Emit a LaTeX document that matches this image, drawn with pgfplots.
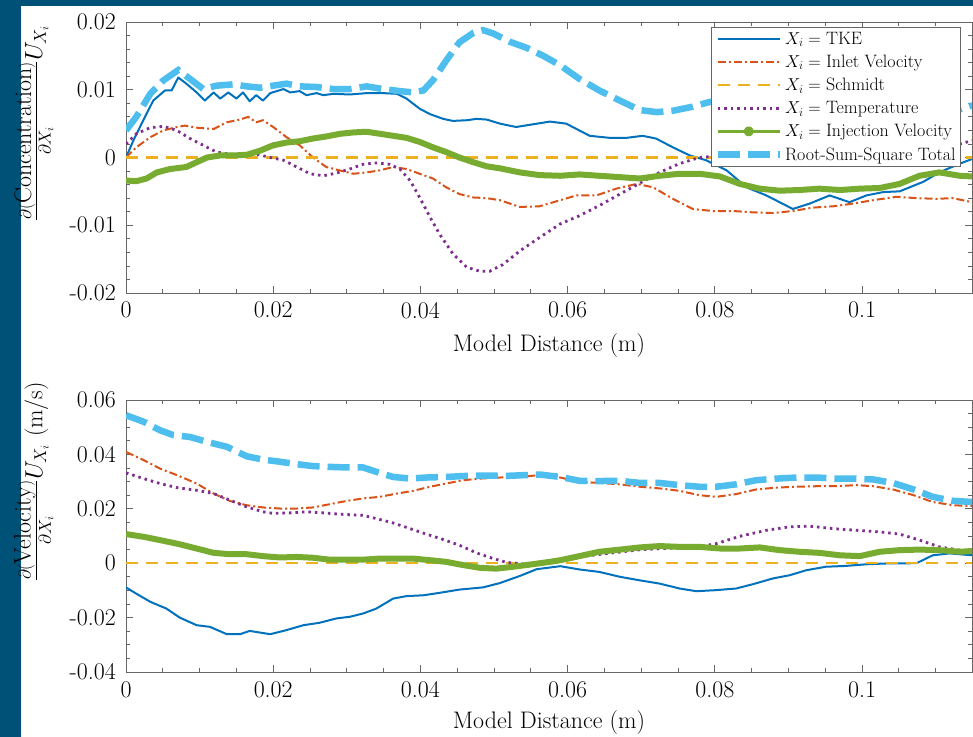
\documentclass[border=0pt]{standalone}
\usepackage{pgfplots}
\pgfplotsset{compat=1.18}
\definecolor{bgblue}{RGB}{0,81,120}
\definecolor{cTKE}{rgb}{0,0.447,0.741}
\definecolor{cInl}{rgb}{0.85,0.325,0.098}
\definecolor{cSch}{rgb}{0.929,0.694,0.125}
\definecolor{cTmp}{rgb}{0.494,0.184,0.556}
\definecolor{cInj}{rgb}{0.466,0.674,0.188}
\definecolor{cRSS}{rgb}{0.301,0.745,0.933}
\newcommand{\bigf}{\fontsize{24}{28}\selectfont}
\pgfplotsset{
  mlbase/.style={
    scale only axis, width=846bp,
    xmin=0, xmax=0.11494,
    scaled x ticks=false, scaled y ticks=false,
    axis line style={black!60, line width=0.7bp},
    every tick/.style={black!60, line width=0.7bp},
    major tick length=7bp, minor tick length=4bp,
    tick align=inside,
    xtick={0,0.02,0.04,0.06,0.08,0.1},
    xticklabels={0,0.02,0.04,0.06,0.08,0.1},
    minor xtick={0.005,0.01,0.015,0.025,0.03,0.035,0.045,0.05,0.055,0.065,0.07,0.075,0.085,0.09,0.095,0.105,0.11},
    tick label style={font=\bigf},
    yticklabel style={inner sep=0pt, xshift=-10bp},
    xticklabel style={inner sep=0pt, yshift=-9bp},
    label style={font=\bigf},
    xlabel={Model Distance (m)},
    clip=true,
  },
  lTKE/.style={cTKE, line width=2bp, line join=round},
  lInl/.style={cInl, line width=2bp, dash pattern=on 8bp off 3bp on 2bp off 3bp},
  lSch/.style={cSch, line width=2.5bp, dash pattern=on 12bp off 8bp},
  lTmp/.style={cTmp, line width=2.8bp, dash pattern=on 2.5bp off 4bp},
  lInj/.style={cInj, line width=6bp, line join=round},
  lRSS/.style={cRSS, line width=6.5bp, dash pattern=on 22bp off 8bp},
}
\begin{document}
\begin{tikzpicture}
\useasboundingbox (0,0) rectangle (973bp,737bp);
\fill[white] (0,0) rectangle (973bp,737bp);
\fill[bgblue] (0,0) rectangle (21bp,737bp);
\fill[bgblue] (0,731bp) rectangle (973bp,737bp);

\begin{axis}[mlbase, at={(126bp,444bp)}, anchor=south west, height=271bp,
  ymin=-0.02, ymax=0.02,
  ytick={-0.02,-0.01,0,0.01,0.02},
  yticklabels={-0.02,-0.01,0,0.01,0.02},
  minor ytick={-0.018,-0.016,-0.014,-0.012,-0.008,-0.006,-0.004,-0.002,0.002,0.004,0.006,0.008,0.012,0.014,0.016,0.018},
  xlabel style={at={(axis description cs:0.5,-0.195)}, anchor=center},
  ylabel={$\frac{\partial(\mbox{Concentration})}{\partial X_i} U_{X_i}$},
  ylabel style={at={(axis description cs:-0.109,0.627)}, anchor=center},
  legend cell align=left,
  legend style={at={(0.987,0.9815)}, anchor=north east, draw=black!60, line width=0.7bp, fill=white,
    font=\fontsize{18}{21}\selectfont, inner xsep=3bp, inner ysep=2.5bp, row sep=5.3bp},
  legend image code/.code={\draw[#1] (0bp,0bp) -- (62bp,0bp);},
]
\addplot[lTKE] coordinates {(0,0) (0.001,0.0025) (0.00235,0.0055) (0.0037,0.0084) (0.0053,0.0099) (0.0062,0.0099) (0.0071,0.0118) (0.0082,0.0109) (0.0096,0.0096) (0.0107,0.0084) (0.0119,0.0096) (0.0128,0.0087) (0.0139,0.0096) (0.015,0.0087) (0.0159,0.0096) (0.0168,0.0083) (0.0177,0.0092) (0.0186,0.0084) (0.0196,0.0095) (0.0214,0.0101) (0.0223,0.0096) (0.0236,0.0098) (0.0245,0.0092) (0.0259,0.0095) (0.0268,0.0092) (0.0282,0.0094) (0.0304,0.0093) (0.0327,0.0095) (0.0349,0.0095) (0.0368,0.0094) (0.0381,0.0087) (0.0399,0.0072) (0.0413,0.0064) (0.0431,0.0057) (0.0444,0.0054) (0.0463,0.0055) (0.0476,0.0057) (0.049,0.0056) (0.0508,0.005) (0.053,0.0045) (0.0553,0.0049) (0.0576,0.0053) (0.0598,0.005) (0.063,0.0032) (0.0657,0.0029) (0.068,0.0029) (0.0702,0.0032) (0.072,0.0028) (0.0743,0.0015) (0.0766,0.0003) (0.0788,-0.0004) (0.0816,-0.0019) (0.0843,-0.0044) (0.087,-0.0056) (0.0888,-0.0066) (0.0906,-0.0076) (0.0929,-0.0068) (0.0956,-0.0056) (0.0983,-0.0066) (0.1006,-0.0056) (0.1029,-0.0051) (0.1051,-0.005) (0.1083,-0.0036) (0.1105,-0.0022) (0.1133,-0.0009) (0.115,-0.0002)};
\addlegendentry{$X_i=$ TKE}
\addplot[lInl] coordinates {(0,0) (0.0014,0.0015) (0.0033,0.003) (0.0051,0.004) (0.0069,0.0045) (0.008,0.0047) (0.0096,0.0044) (0.0119,0.0042) (0.0137,0.0052) (0.0155,0.0056) (0.0166,0.006) (0.0177,0.0052) (0.0186,0.0055) (0.02,0.0045) (0.0218,0.003) (0.0236,0.0018) (0.0254,0) (0.0272,-0.0014) (0.029,-0.0019) (0.0309,-0.0024) (0.0327,-0.0022) (0.0345,-0.0019) (0.0363,-0.0014) (0.0381,-0.0017) (0.0399,-0.0024) (0.0417,-0.0031) (0.0435,-0.0044) (0.0453,-0.0054) (0.0472,-0.0059) (0.049,-0.006) (0.0508,-0.0063) (0.0535,-0.0073) (0.0562,-0.0072) (0.059,-0.0063) (0.0612,-0.0056) (0.0639,-0.0056) (0.0666,-0.0046) (0.0694,-0.0039) (0.0716,-0.0044) (0.0743,-0.0061) (0.077,-0.0076) (0.0797,-0.0079) (0.0825,-0.0079) (0.0852,-0.0081) (0.0879,-0.0082) (0.0906,-0.0079) (0.0933,-0.0074) (0.0961,-0.0072) (0.0988,-0.0068) (0.1015,-0.0063) (0.1047,-0.0058) (0.1074,-0.006) (0.1101,-0.0061) (0.1123,-0.006) (0.115,-0.0066)};
\addlegendentry{$X_i=$ Inlet Velocity}
\addplot[lSch] coordinates {(0,0) (0.115,0)};
\addlegendentry{$X_i=$ Schmidt}
\addplot[lTmp] coordinates {(0,0.002) (0.0014,0.0035) (0.0033,0.0044) (0.0051,0.0046) (0.0069,0.004) (0.0087,0.0028) (0.0105,0.0018) (0.0123,0.0008) (0.0141,0.0005) (0.0159,0.0003) (0.0177,0.0005) (0.0196,0) (0.0214,-0.0004) (0.0232,-0.0014) (0.025,-0.0024) (0.0268,-0.0027) (0.0286,-0.0023) (0.0304,-0.0017) (0.0322,-0.001) (0.034,-0.0008) (0.0358,-0.001) (0.0372,-0.0017) (0.0386,-0.0034) (0.0399,-0.0059) (0.0413,-0.0088) (0.0426,-0.0113) (0.0444,-0.0142) (0.0463,-0.0162) (0.0481,-0.0168) (0.0494,-0.0168) (0.0512,-0.0158) (0.0535,-0.0138) (0.0562,-0.0118) (0.059,-0.0098) (0.0616,-0.0086) (0.0643,-0.0071) (0.0671,-0.0054) (0.0698,-0.0038) (0.0725,-0.0022) (0.0752,-0.0009) (0.0779,0) (0.085,0.0006) (0.095,0.0011) (0.105,0.0016) (0.1133,0.002) (0.115,0.0025)};
\addlegendentry{$X_i=$ Temperature}
\addplot[lInj, legend image code/.code={\draw[cInj, line width=2.5bp] (0bp,0bp) -- (62bp,0bp); \fill[cInj] (31bp,0bp) circle (2bp);}] coordinates {(0,-0.0034) (0.0014,-0.0035) (0.0028,-0.0031) (0.0042,-0.0022) (0.006,-0.0017) (0.0082,-0.0014) (0.0096,-0.0007) (0.011,0) (0.0128,0.0003) (0.0146,0.0003) (0.0164,0.0004) (0.0182,0.001) (0.02,0.0018) (0.0218,0.0022) (0.0236,0.0024) (0.0254,0.0028) (0.0272,0.0031) (0.0291,0.0035) (0.0309,0.0037) (0.0327,0.0038) (0.0345,0.0035) (0.0363,0.0032) (0.0381,0.0029) (0.0399,0.0023) (0.0417,0.0015) (0.0435,0.0008) (0.0453,0) (0.0472,-0.0007) (0.049,-0.0013) (0.0508,-0.0016) (0.0535,-0.0022) (0.0562,-0.0026) (0.059,-0.0027) (0.0616,-0.0025) (0.0643,-0.0027) (0.0671,-0.0029) (0.0698,-0.0031) (0.0725,-0.0027) (0.0752,-0.0024) (0.0779,-0.0024) (0.0807,-0.0028) (0.0834,-0.0039) (0.0861,-0.0046) (0.0888,-0.0049) (0.0915,-0.0048) (0.0942,-0.0046) (0.097,-0.0048) (0.0997,-0.0046) (0.1024,-0.0045) (0.1051,-0.0039) (0.1078,-0.0027) (0.1105,-0.0022) (0.1133,-0.0027) (0.115,-0.0028)};
\addlegendentry{$X_i=$ Injection Velocity}
\addplot[lRSS] coordinates {(0,0.004) (0.0014,0.006) (0.0033,0.0094) (0.0051,0.0114) (0.0071,0.0129) (0.0087,0.0116) (0.0105,0.0101) (0.0123,0.0106) (0.0146,0.0108) (0.0164,0.0105) (0.0182,0.0103) (0.02,0.0106) (0.0218,0.0109) (0.0236,0.0105) (0.0259,0.0104) (0.0282,0.0101) (0.0304,0.0101) (0.0327,0.0105) (0.0349,0.0101) (0.0372,0.0098) (0.039,0.0096) (0.0404,0.0099) (0.0417,0.0114) (0.0435,0.0143) (0.0453,0.017) (0.0472,0.0184) (0.0485,0.0188) (0.0499,0.0183) (0.0521,0.0171) (0.0544,0.0162) (0.0567,0.015) (0.059,0.0136) (0.0616,0.0116) (0.0643,0.0099) (0.0671,0.0084) (0.0698,0.007) (0.0721,0.0067) (0.0743,0.0069) (0.077,0.0075) (0.0793,0.0082) (0.09,0.0088) (0.1,0.0082) (0.108,0.0072) (0.1133,0.0071) (0.115,0.0077)};
\addlegendentry{Root-Sum-Square Total}
\end{axis}

\begin{axis}[mlbase, at={(126bp,65bp)}, anchor=south west, height=272bp,
  ymin=-0.04, ymax=0.06,
  ytick={-0.04,-0.02,0,0.02,0.04,0.06},
  yticklabels={-0.04,-0.02,0,0.02,0.04,0.06},
  minor ytick={-0.035,-0.03,-0.025,-0.015,-0.01,-0.005,0.005,0.01,0.015,0.025,0.03,0.035,0.045,0.05,0.055},
  xlabel style={at={(axis description cs:0.5,-0.185)}, anchor=center},
  ylabel={$\frac{\partial(\mbox{Velocity})}{\partial X_i} U_{X_i}$ (m/s)},
  ylabel style={at={(axis description cs:-0.109,0.70)}, anchor=center},
]
\addplot[lTKE] coordinates {(0,-0.0089) (0.0014,-0.0112) (0.0033,-0.0142) (0.0055,-0.0167) (0.0073,-0.02) (0.0096,-0.0228) (0.0114,-0.0234) (0.0137,-0.0261) (0.0155,-0.0261) (0.0168,-0.0249) (0.0196,-0.0261) (0.0218,-0.0246) (0.0241,-0.0228) (0.0263,-0.0219) (0.0286,-0.0203) (0.0304,-0.0197) (0.0322,-0.0185) (0.034,-0.0167) (0.0363,-0.013) (0.0381,-0.0121) (0.0404,-0.0118) (0.0426,-0.0109) (0.0453,-0.0097) (0.0485,-0.0089) (0.0508,-0.0073) (0.0535,-0.0047) (0.0558,-0.0022) (0.059,-0.0011) (0.0616,-0.0023) (0.0643,-0.0032) (0.0671,-0.005) (0.0698,-0.0063) (0.0725,-0.0075) (0.0752,-0.0093) (0.0775,-0.0103) (0.0802,-0.0099) (0.0829,-0.0093) (0.0852,-0.0077) (0.0879,-0.0056) (0.0902,-0.0044) (0.0924,-0.0026) (0.0951,-0.0013) (0.0978,-0.001) (0.1006,-0.0004) (0.1033,-0.0001) (0.1074,0) (0.1096,0.0029) (0.1119,0.0036) (0.115,0.0029)};
\addplot[lInl] coordinates {(0,0.0409) (0.0024,0.0379) (0.0046,0.0348) (0.0069,0.0324) (0.0096,0.0293) (0.0119,0.0256) (0.0141,0.0229) (0.0164,0.0213) (0.0186,0.0205) (0.0209,0.0201) (0.0232,0.0201) (0.0254,0.0205) (0.0277,0.0217) (0.03,0.0229) (0.0322,0.0238) (0.0345,0.0244) (0.0368,0.0256) (0.039,0.0266) (0.0413,0.0281) (0.0435,0.0293) (0.0458,0.0305) (0.0481,0.0311) (0.0508,0.0315) (0.0535,0.0317) (0.0562,0.0324) (0.059,0.0315) (0.0616,0.0299) (0.0643,0.0295) (0.0671,0.029) (0.0698,0.0281) (0.0725,0.0275) (0.0752,0.0266) (0.0779,0.025) (0.0802,0.0244) (0.0829,0.0254) (0.0856,0.0271) (0.0884,0.0278) (0.0911,0.0281) (0.0938,0.0283) (0.0965,0.0283) (0.0992,0.0287) (0.1015,0.0283) (0.1042,0.0271) (0.107,0.025) (0.1096,0.0225) (0.1124,0.0213) (0.115,0.021)};
\addplot[lSch] coordinates {(0,0) (0.115,0)};
\addplot[lTmp] coordinates {(0,0.0332) (0.0024,0.0311) (0.0046,0.0293) (0.0069,0.0278) (0.0096,0.0268) (0.0119,0.0256) (0.0141,0.0232) (0.0164,0.0207) (0.0186,0.0189) (0.02,0.0183) (0.0223,0.0185) (0.0245,0.0189) (0.0268,0.0185) (0.0291,0.018) (0.0322,0.0176) (0.034,0.0164) (0.0363,0.0148) (0.0386,0.0127) (0.0408,0.0107) (0.0431,0.0087) (0.0453,0.0066) (0.0476,0.0038) (0.0499,0.0017) (0.0517,0.0003) (0.054,-0.0003) (0.0576,0) (0.062,0.0025) (0.07,0.005) (0.0778,0.006) (0.0802,0.0072) (0.0834,0.0099) (0.087,0.0121) (0.0902,0.0134) (0.0929,0.0136) (0.0961,0.0127) (0.0992,0.0121) (0.1024,0.0115) (0.1051,0.0107) (0.1078,0.0085) (0.1105,0.006) (0.1133,0.0048) (0.115,0.0042)};
\addplot[lInj] coordinates {(0,0.0107) (0.0024,0.0097) (0.0046,0.0085) (0.0069,0.0072) (0.0096,0.0054) (0.0119,0.0038) (0.0141,0.0033) (0.0164,0.0033) (0.0186,0.0026) (0.0209,0.0021) (0.0232,0.0023) (0.0254,0.002) (0.0277,0.0013) (0.03,0.0013) (0.0322,0.0013) (0.0345,0.0017) (0.0368,0.0017) (0.039,0.0017) (0.0413,0.0011) (0.0435,0.0005) (0.0458,-0.0007) (0.0481,-0.0017) (0.0503,-0.002) (0.0526,-0.0013) (0.0549,-0.0005) (0.0576,0.0005) (0.059,0.0011) (0.0616,0.0026) (0.0643,0.0042) (0.0671,0.005) (0.0698,0.0058) (0.0725,0.0063) (0.0752,0.006) (0.0779,0.006) (0.0807,0.0054) (0.0834,0.0054) (0.0861,0.0058) (0.0888,0.0048) (0.0915,0.0042) (0.0942,0.0038) (0.097,0.0029) (0.0997,0.0026) (0.1024,0.0042) (0.1051,0.0048) (0.1078,0.005) (0.1105,0.0048) (0.1133,0.0042) (0.115,0.0045)};
\addplot[lRSS] coordinates {(0,0.0544) (0.0024,0.052) (0.0046,0.0489) (0.0064,0.0471) (0.0087,0.0464) (0.011,0.0446) (0.0137,0.0428) (0.0164,0.0393) (0.0186,0.0381) (0.0209,0.0373) (0.0232,0.0364) (0.0254,0.0357) (0.0277,0.0354) (0.03,0.0352) (0.0322,0.0352) (0.034,0.0336) (0.0363,0.0317) (0.0386,0.0311) (0.0408,0.0315) (0.0435,0.0317) (0.0463,0.0321) (0.049,0.0322) (0.0517,0.0321) (0.0544,0.0324) (0.0562,0.0326) (0.059,0.0317) (0.0616,0.0303) (0.0643,0.0302) (0.0671,0.0303) (0.0698,0.0295) (0.0725,0.0295) (0.0752,0.0287) (0.0779,0.0281) (0.0802,0.0281) (0.0829,0.029) (0.0856,0.0305) (0.0884,0.0311) (0.0911,0.0315) (0.0938,0.0315) (0.0965,0.0311) (0.0992,0.0311) (0.1015,0.0308) (0.1042,0.0295) (0.107,0.0271) (0.1096,0.0244) (0.1124,0.0229) (0.115,0.0225)};
\end{axis}
\end{tikzpicture}
\end{document}
